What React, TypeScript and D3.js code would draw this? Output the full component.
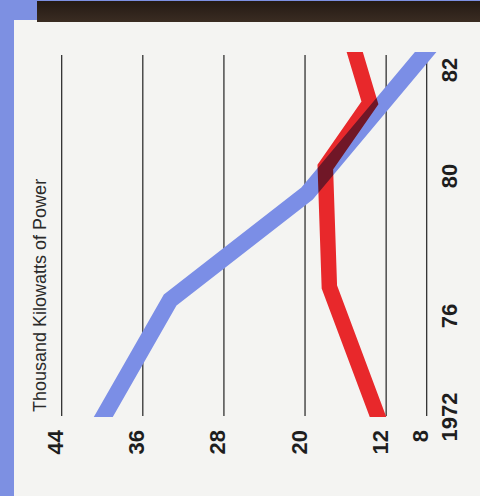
import React from "react";
import * as d3 from "d3";

const valueTicks = [44, 36, 28, 20, 12, 8];
const yearTicks = [1972, 1976, 1980, 1982];
const yearLabels = ["1972", "76", "80", "82"];

const blueYears = [1972, 1976.46, 1979.5, 1982.34];
const blueValues = [39.9, 33.3, 19.8, 8.1];

const redYears = [1972, 1976.83, 1980.17, 1981.38, 1982.34];
const redValues = [12.8, 17.6, 18.0, 13.6, 15.1];

const axisTitle = "Thousand Kilowatts of Power";

export default function App() {
  const W = 480;
  const H = 496;
  const xVal = d3.scaleLinear().domain([44, 8]).range([61.7, 426.7]);
  const yYear = d3
    .scaleLinear()
    .domain(yearTicks)
    .range([417, 316, 176, 70]);

  const line = d3
    .line<{ year: number; v: number }>()
    .x((d) => xVal(d.v))
    .y((d) => yYear(d.year));

  const blue = blueYears.map((year, i) => ({ year, v: blueValues[i] }));
  const red = redYears.map((year, i) => ({ year, v: redValues[i] }));

  const font = "'Liberation Sans', Arial, Helvetica, sans-serif";

  return (
    <svg
      width={W}
      height={H}
      style={{ position: "absolute", left: 0, top: 0 }}
    >
      <defs>
        <clipPath id="plotClip">
          <rect x={0} y={52} width={W} height={417 - 52} />
        </clipPath>
        <linearGradient id="band" x1="0" y1="0" x2="0" y2="1">
          <stop offset="0" stopColor="#241a14" />
          <stop offset="1" stopColor="#3a2c22" />
        </linearGradient>
      </defs>
      <rect x={0} y={0} width={W} height={H} fill="#f4f4f2" />
      <rect x={0} y={0} width={W} height={2} fill="#7d90e2" />
      <rect x={0} y={0} width={37} height={20} fill="#7d90e2" />
      <rect x={0} y={0} width={14} height={H} fill="#7d90e2" />
      <rect x={37} y={1} width={W - 37} height={21} fill="url(#band)" />

      {valueTicks.map((v) => (
        <line
          key={"g" + v}
          x1={xVal(v)}
          x2={xVal(v)}
          y1={55}
          y2={416}
          stroke="#222"
          strokeWidth={1.2}
        />
      ))}

      <g clipPath="url(#plotClip)">
        <path
          d={line(red) || ""}
          fill="none"
          stroke="#e8282b"
          strokeWidth={15.5}
          strokeLinecap="square"
          strokeLinejoin="miter"
        />
        <path
          d={line(blue) || ""}
          fill="none"
          stroke="#7b8ee6"
          strokeWidth={16.5}
          strokeLinecap="square"
          strokeLinejoin="miter"
          style={{ mixBlendMode: "multiply" }}
        />
      </g>

      {valueTicks.map((v) => (
        <text
          key={"t" + v}
          transform={`translate(${xVal(v) + 1.5},430) rotate(-90)`}
          textAnchor="end"
          fontFamily={font}
          fontWeight="bold"
          fontSize={22}
          fill="#1e1e1e"
        >
          {v}
        </text>
      ))}

      {yearTicks.map((y, i) => (
        <text
          key={"y" + y}
          transform={`translate(457,${yYear(y)}) rotate(-90)`}
          textAnchor="middle"
          fontFamily={font}
          fontWeight="bold"
          fontSize={22}
          fill="#1e1e1e"
        >
          {yearLabels[i]}
        </text>
      ))}

      <text
        transform={`translate(46,412) rotate(-90)`}
        textAnchor="start"
        fontFamily={font}
        fontSize={18}
        fill="#2a2a2a"
      >
        {axisTitle}
      </text>
    </svg>
  );
}
